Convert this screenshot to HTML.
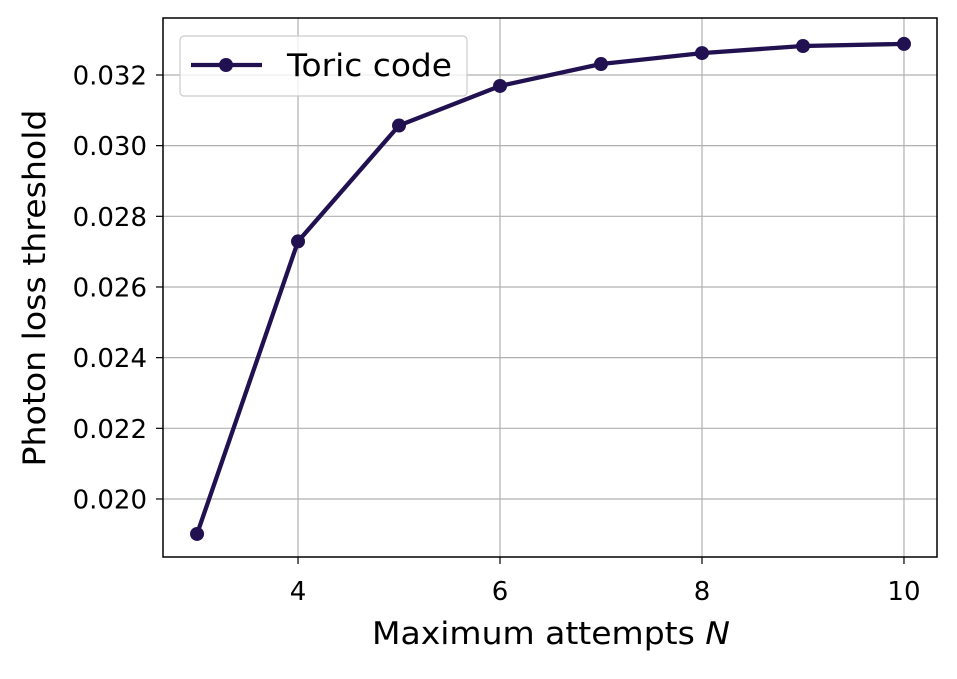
<!DOCTYPE html>
<html><head><meta charset="utf-8"><style>
body{margin:0;background:#fff;}
svg text{font-family:"DejaVu Sans","Liberation Sans",sans-serif;}
</style></head><body>
<svg id="chart" width="957" height="674" xmlns="http://www.w3.org/2000/svg"></svg>
<script>
const categories=[3,4,5,6,7,8,9,10];
const thresholdValues=[0.01901,0.02729,0.03057,0.03169,0.03231,0.03262,0.03282,0.03288];
const xTicks=[4,6,8,10];
const yTicks=[0.020,0.022,0.024,0.026,0.028,0.030,0.032];
const yTickLabels=["0.020","0.022","0.024","0.026","0.028","0.030","0.032"];
const L=163,R=937,T=18,B=557;
const xMin=2.663,xMax=10.327,yMin=0.018358,yMax=0.033613;
const sx=v=>L+(v-xMin)/(xMax-xMin)*(R-L);
const sy=v=>B-(v-yMin)/(yMax-yMin)*(B-T);
const svg=document.getElementById('chart');
const NS='http://www.w3.org/2000/svg';
function mk(tag,attrs,parent){const e=document.createElementNS(NS,tag);for(const k in attrs)e.setAttribute(k,attrs[k]);(parent||svg).appendChild(e);return e;}
xTicks.forEach(t=>{const x=sx(t);
 const g=mk('line',{x1:x,x2:x,y1:T,y2:B,stroke:'#b0b0b0','stroke-width':1.2});
 
 
 mk('line',{x1:x,x2:x,y1:B,y2:B+7,stroke:'#000','stroke-width':1.2});
 const tx=mk('text',{x:x,y:600,'text-anchor':'middle','font-size':26,fill:'#000'});tx.textContent=t;
 
 
});
yTicks.forEach((t,i)=>{const y=sy(t);
 const g=mk('line',{x1:L,x2:R,y1:y,y2:y,stroke:'#b0b0b0','stroke-width':1.2});
 
 
 mk('line',{x1:L-7,x2:L,y1:y,y2:y,stroke:'#000','stroke-width':1.2});
 const tx=mk('text',{x:L-16,y:y+9.5,'text-anchor':'end','font-size':26,fill:'#000'});tx.textContent=yTickLabels[i];
 
 
});
const pts=categories.map((c,i)=>sx(c)+','+sy(thresholdValues[i])).join(' ');
const line=mk('polyline',{points:pts,fill:'none',stroke:'#221150','stroke-width':4.3,'stroke-linejoin':'round'});


categories.forEach((c,i)=>{const p=mk('circle',{cx:sx(c),cy:sy(thresholdValues[i]),r:7,fill:'#221150'});
 
 
});
const frame=mk('rect',{x:L,y:T,width:R-L,height:B-T,fill:'none',stroke:'#000','stroke-width':1.5});


const xl=mk('text',{x:372,y:644,'font-size':31,textLength:358,lengthAdjust:'spacingAndGlyphs'});xl.innerHTML='Maximum attempts <tspan font-style="italic">N</tspan>';


const yl=mk('text',{x:0,y:0,'text-anchor':'middle','font-size':31,textLength:357,lengthAdjust:'spacingAndGlyphs',transform:'translate(45,'+288+') rotate(-90)'});yl.textContent='Photon loss threshold';


const lg=mk('g',{});


mk('rect',{x:180,y:36,width:287,height:60,rx:4,fill:'#fff','fill-opacity':0.8,stroke:'#ccc','stroke-width':1.2},lg);
mk('line',{x1:191,x2:262,y1:65,y2:65,stroke:'#221150','stroke-width':4.3},lg);
mk('circle',{cx:226,cy:65,r:7,fill:'#221150'},lg);
const lt=mk('text',{x:287,y:76,'font-size':31,textLength:165,lengthAdjust:'spacingAndGlyphs'},lg);lt.textContent='Toric code';


</script>
</body></html>
